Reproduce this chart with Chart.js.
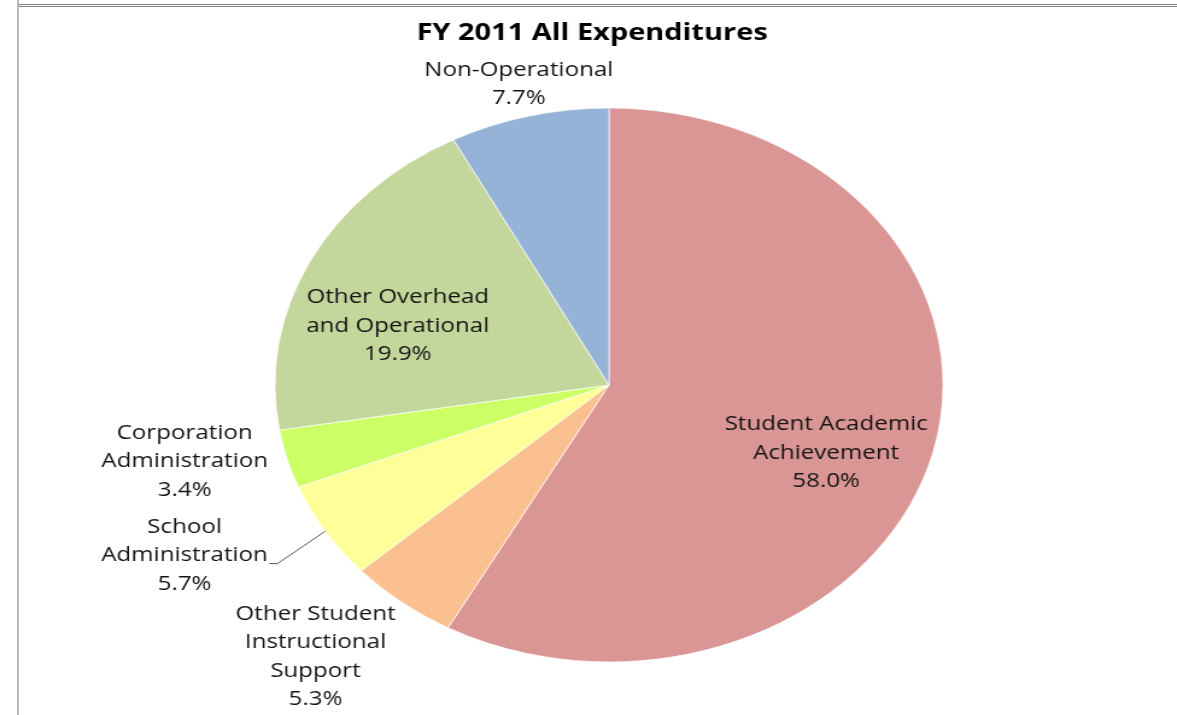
<!DOCTYPE html>
<html><head><meta charset="utf-8">
<script src="https://cdn.jsdelivr.net/npm/chart.js@4"></script>
<style>
html,body{margin:0;padding:0;background:#fff;overflow:hidden;width:1177px;height:715px;}
#wrap{position:absolute;left:0;top:0;width:976px;height:715px;transform:scaleX(1.2059);transform-origin:0 0;}
.hl{position:absolute;left:19px;right:0;height:1px;background:#7f7f7f;}
.vl{position:absolute;left:17px;top:0;width:2px;height:715px;background:#b8b8b8;}
</style></head><body>
<div id="wrap"><canvas id="c" width="976" height="715"></canvas></div>
<div class="vl"></div><div class="hl" style="top:4px"></div><div class="hl" style="top:6px"></div>
<script>
const titleText = 'FY 2011 All Expenditures';
const categories = ['Student Academic Achievement', 'Other Student Instructional Support', 'School Administration', 'Corporation Administration', 'Other Overhead and Operational', 'Non-Operational'];
const labelLines = [['Student Academic', 'Achievement'], ['Other Student', 'Instructional', 'Support'], ['School', 'Administration'], ['Corporation', 'Administration'], ['Other Overhead', 'and Operational'], ['Non-Operational']];
const values = [58.0, 5.3, 5.7, 3.4, 19.9, 7.7];

// styles (kept apart from data)
const colors = ['#D99694', '#FAC090', '#FFFF99', '#CCFF66', '#C3D69B', '#95B3D7'];
const labelAngleShift = [6.3, 3.5, 6.0, 3.2, -7.9, -0.1];   // degrees from slice mid-angle
const labelRadiusFactor = [0.695, 1.317, 1.412, 1.300, 0.667, 1.119];
const leaderLine = [false, false, true, false, false, false];
const FONT = '"Open Sans", "Noto Sans", sans-serif';
const LINE_H = 28.5;

const labelPlugin = {
  id: 'sliceLabels',
  afterDatasetsDraw(chart) {
    const ctx = chart.ctx;
    const meta = chart.getDatasetMeta(0);
    ctx.save();
    ctx.fillStyle = '#141414';
    ctx.font = '20px ' + FONT;
    ctx.textAlign = 'center';
    ctx.textBaseline = 'middle';
    meta.data.forEach((arc, i) => {
      const p = arc.getProps(['x', 'y', 'startAngle', 'endAngle', 'outerRadius'], true);
      const mid = (p.startAngle + p.endAngle) / 2;
      const a = mid + labelAngleShift[i] * Math.PI / 180;
      const d = p.outerRadius * labelRadiusFactor[i];
      const lx = p.x + Math.cos(a) * d;
      const ly = p.y + Math.sin(a) * d;
      const lines = labelLines[i].concat([values[i].toFixed(1) + '%']);
      const y0 = ly - (lines.length - 1) * LINE_H / 2;
      lines.forEach((t, k) => ctx.fillText(t, lx, y0 + k * LINE_H));
      if (leaderLine[i]) {
        const w = ctx.measureText(lines[lines.length - 2]).width;
        const sx = lx + w / 2 + 1;
        const sy = y0 + (lines.length - 2) * LINE_H + 8;
        const ex = p.x + Math.cos(mid) * p.outerRadius;
        const ey = p.y + Math.sin(mid) * p.outerRadius;
        ctx.strokeStyle = '#555';
        ctx.lineWidth = 1;
        ctx.beginPath();
        ctx.moveTo(sx, sy);
        ctx.lineTo(sx + 7, sy);
        ctx.lineTo(ex, ey);
        ctx.stroke();
      }
    });
    ctx.restore();
  },
  afterDraw(chart) {
    const ctx = chart.ctx;
    ctx.save();
    ctx.fillStyle = '#000';
    ctx.font = 'bold 24px ' + FONT;
    ctx.textAlign = 'center';
    ctx.textBaseline = 'middle';
    ctx.fillText(titleText, 491, 33);
    ctx.restore();
  }
};

new Chart(document.getElementById('c'), {
  type: 'pie',
  data: {
    labels: categories,
    datasets: [{ data: values, backgroundColor: colors, borderColor: 'rgba(255,255,255,0.7)', borderWidth: 1, radius: 277 }]
  },
  options: {
    responsive: false,
    animation: false,
    devicePixelRatio: 1,
    layout: { padding: { left: 34, right: 0, top: 55, bottom: 0 } },
    plugins: { legend: { display: false }, tooltip: { enabled: false }, title: { display: false } }
  },
  plugins: [labelPlugin]
});
</script>
</body></html>
